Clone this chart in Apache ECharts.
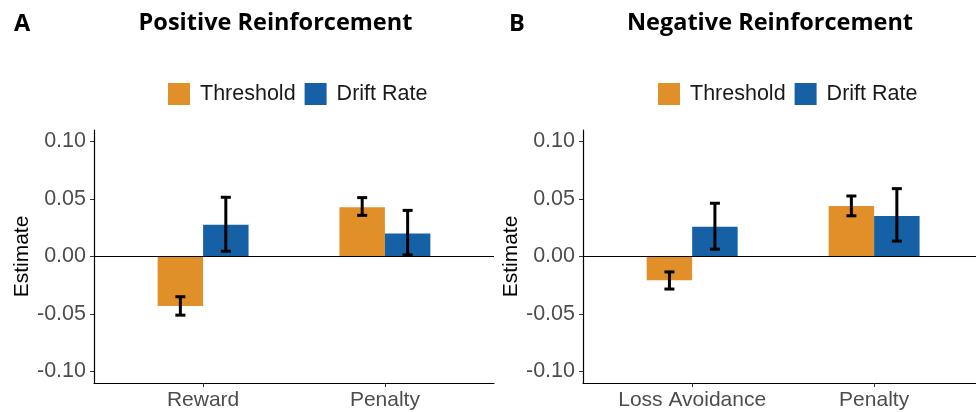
<!DOCTYPE html>
<html>
<head>
<meta charset="utf-8">
<script src="https://cdn.jsdelivr.net/npm/echarts@6/dist/echarts.min.js"></script>
<style>html,body{margin:0;padding:0;background:#fff}#c{width:976px;height:412px}</style>
</head>
<body>
<div id="c"></div>
<script>
// ---- data ----
const seriesNames = ['Threshold', 'Drift Rate'];
const yTicks = [-0.10, -0.05, 0.00, 0.05, 0.10];

const categoriesA = ['Reward', 'Penalty'];
const thresholdA = [-0.0431, 0.0428];
const thresholdLoA = [-0.0510, 0.0358];
const thresholdHiA = [-0.0350, 0.0512];
const driftA = [0.0276, 0.0201];
const driftLoA = [0.0046, 0.0014];
const driftHiA = [0.0515, 0.0401];

const categoriesB = ['Loss Avoidance', 'Penalty'];
const thresholdB = [-0.0207, 0.0439];
const thresholdLoB = [-0.0283, 0.0354];
const thresholdHiB = [-0.0134, 0.0526];
const driftB = [0.0258, 0.0352];
const driftLoB = [0.0064, 0.0134];
const driftHiB = [0.0463, 0.0590];

// ---- styling ----
const ORANGE = '#E08F29';
const BLUE = '#1660A6';
const SANS = 'Liberation Sans, Arial, sans-serif';
const TITLE_FONT = 'Open Sans, Noto Sans, sans-serif';
const BAR_W = 0.25;
const CAP_W = 0.055;

const chart = echarts.init(document.getElementById('c'), null, {renderer: 'canvas'});

function barItem(params, api) {
  const x = api.value(0), y = api.value(1);
  const p0 = api.coord([x - BAR_W / 2, y]);
  const p1 = api.coord([x + BAR_W / 2, 0]);
  return {
    type: 'rect',
    shape: {x: p0[0], y: Math.min(p0[1], p1[1]), width: p1[0] - p0[0], height: Math.abs(p1[1] - p0[1])},
    style: {fill: api.visual('color')}
  };
}
function errItem(params, api) {
  const x = api.value(0), lo = api.value(1), hi = api.value(2);
  const a = api.coord([x, lo]), b = api.coord([x, hi]);
  const hw = (api.coord([x + CAP_W / 2, 0])[0] - api.coord([x, 0])[0]);
  const st = {stroke: '#000', lineWidth: 3};
  return {
    type: 'group',
    children: [
      {type: 'line', shape: {x1: a[0], y1: a[1], x2: b[0], y2: b[1]}, style: st},
      {type: 'line', shape: {x1: a[0] - hw, y1: a[1], x2: a[0] + hw, y2: a[1]}, style: st},
      {type: 'line', shape: {x1: b[0] - hw, y1: b[1], x2: b[0] + hw, y2: b[1]}, style: st}
    ]
  };
}

function panelSeries(idx, cats, thr, thrLo, thrHi, dr, drLo, drHi) {
  const off = BAR_W / 2;
  const thrData = cats.map((c, i) => [i + 1 - off, thr[i]]);
  const drData = cats.map((c, i) => [i + 1 + off, dr[i]]);
  const errData = cats.map((c, i) => [i + 1 - off, thrLo[i], thrHi[i]])
    .concat(cats.map((c, i) => [i + 1 + off, drLo[i], drHi[i]]));
  return [
    {name: seriesNames[0], type: 'custom', xAxisIndex: idx, yAxisIndex: idx, renderItem: barItem,
      itemStyle: {color: ORANGE}, data: thrData, encode: {x: 0, y: 1}, z: 2, silent: true},
    {name: seriesNames[1], type: 'custom', xAxisIndex: idx, yAxisIndex: idx, renderItem: barItem,
      itemStyle: {color: BLUE}, data: drData, encode: {x: 0, y: 1}, z: 2, silent: true},
    {name: 'err' + idx, type: 'custom', xAxisIndex: idx, yAxisIndex: idx, renderItem: errItem,
      data: errData, encode: {x: 0, y: [1, 2]}, z: 4, silent: true,
      markLine: {silent: true, symbol: 'none', label: {show: false},
        lineStyle: {color: '#000', width: 1.2, type: 'solid'}, data: [{yAxis: 0}]}}
  ];
}

function xAxisFor(idx, cats, max) {
  return {
    type: 'value', gridIndex: idx, min: 0.4, max: max,
    splitLine: {show: false},
    axisLine: {show: true, onZero: false, lineStyle: {color: '#000', width: 1.2}},
    axisTick: {show: true, length: 4, customValues: [1, 2], lineStyle: {color: '#333'}},
    axisLabel: {customValues: [1, 2], formatter: v => cats[Math.round(v) - 1],
      color: '#4D4D4D', fontSize: 21, fontFamily: SANS, margin: 7}
  };
}
function yAxisFor(idx) {
  return {
    type: 'value', gridIndex: idx, min: -0.11, max: 0.11,
    name: 'Estimate', nameLocation: 'middle', nameGap: 60, nameRotate: 90,
    nameTextStyle: {color: '#000', fontSize: 21, fontFamily: SANS},
    splitLine: {show: false},
    axisLine: {show: true, onZero: false, lineStyle: {color: '#000', width: 1.2}},
    axisTick: {show: true, length: 4, customValues: yTicks, lineStyle: {color: '#333'}},
    axisLabel: {customValues: yTicks, formatter: v => v.toFixed(2),
      color: '#4D4D4D', fontSize: 21.5, fontFamily: SANS, margin: 8}
  };
}

const legendCommon = {
  data: seriesNames, icon: 'rect', itemWidth: 22, itemHeight: 22, itemGap: 9, padding: 0,
  textStyle: {color: '#1A1A1A', fontSize: 21.5, fontFamily: SANS, padding: [0, 0, 0, 5]},
  selectedMode: false, top: 83
};
const titleStyle = {fontSize: 23.5, fontWeight: 'bold', color: '#000', fontFamily: TITLE_FONT};

chart.setOption({
  animation: false,
  title: [
    {text: 'A', left: 14, top: 12, padding: 0, textStyle: titleStyle},
    {text: 'Positive Reinforcement', left: 275.5, top: 11, textAlign: 'center', padding: 0, textStyle: titleStyle},
    {text: 'B', left: 509, top: 12, padding: 0, textStyle: titleStyle},
    {text: 'Negative Reinforcement', left: 770, top: 11, textAlign: 'center', padding: 0, textStyle: titleStyle}
  ],
  legend: [
    Object.assign({}, legendCommon, {left: 168}),
    Object.assign({}, legendCommon, {left: 658})
  ],
  grid: [
    {left: 94, right: 482, top: 130, bottom: 29, containLabel: false, outerBoundsMode: 'none'},
    {left: 583, right: 0, top: 130, bottom: 29, containLabel: false, outerBoundsMode: 'none'}
  ],
  xAxis: [xAxisFor(0, categoriesA, 2.6), xAxisFor(1, categoriesB, 2.56)],
  yAxis: [yAxisFor(0), yAxisFor(1)],
  series: panelSeries(0, categoriesA, thresholdA, thresholdLoA, thresholdHiA, driftA, driftLoA, driftHiA)
    .concat(panelSeries(1, categoriesB, thresholdB, thresholdLoB, thresholdHiB, driftB, driftLoB, driftHiB))
});
</script>
</body>
</html>
